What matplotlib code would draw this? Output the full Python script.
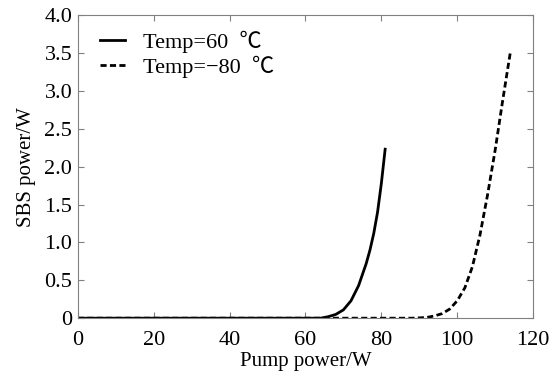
import matplotlib
matplotlib.use('Agg')
import matplotlib.pyplot as plt

# SBS output vs pump power
pump_60 = [0, 64, 66, 68, 70, 72, 74, 76, 77, 78, 79, 80, 81]
sbs_60 = [0, 0, 0.02, 0.05, 0.11, 0.23, 0.43, 0.72, 0.90, 1.12, 1.40, 1.78, 2.23]

pump_m80 = [0, 88, 90, 92, 94, 96, 98, 100, 102, 104, 106, 108, 110, 112, 114]
sbs_m80 = [0, 0, 0.004, 0.01, 0.03, 0.06, 0.12, 0.23, 0.40, 0.68, 1.10, 1.63, 2.22, 2.88, 3.51]

labels = ['Temp=60  \u2103', 'Temp=\u221280  \u2103']
xticks = [0, 20, 40, 60, 80, 100, 120]
yticks = [0, 0.5, 1.0, 1.5, 2.0, 2.5, 3.0, 3.5, 4.0]
ytick_labels = ['0', '0.5', '1.0', '1.5', '2.0', '2.5', '3.0', '3.5', '4.0']

plt.rcParams['font.family'] = ['Liberation Serif', 'Noto Sans CJK SC', 'DejaVu Sans']
plt.rcParams['font.size'] = 16

fig = plt.figure(figsize=(5.6, 3.77), dpi=100)
ax = fig.add_axes([0.139, 0.156, 0.813, 0.804])

ax.plot(pump_60, sbs_60, color='black', lw=2, label=labels[0])
ax.plot(pump_m80, sbs_m80, color='black', lw=2, linestyle=(0, (2.2, 1.2)), label=labels[1])

ax.set_xlim(0, 120)
ax.set_ylim(0, 4.0)
ax.set_xticks(xticks)
ax.set_yticks(yticks)
ax.set_yticklabels(ytick_labels)
ax.tick_params(direction='in', top=True, right=True, length=4, color='#808080')
ax.tick_params(axis='x', pad=9)
ax.tick_params(axis='y', pad=4)
for sp in ax.spines.values():
    sp.set_color('#808080')

ax.set_xlabel('Pump power/W', fontsize=15, labelpad=2)
ax.set_ylabel('SBS power/W', fontsize=15, labelpad=6)

ax.legend(loc='upper left', frameon=False, handlelength=1.15, handletextpad=0.8,
          labelspacing=0.15, borderpad=0, borderaxespad=0,
          bbox_to_anchor=(0.048, 0.95))

fig.savefig('out.png', dpi=100)
